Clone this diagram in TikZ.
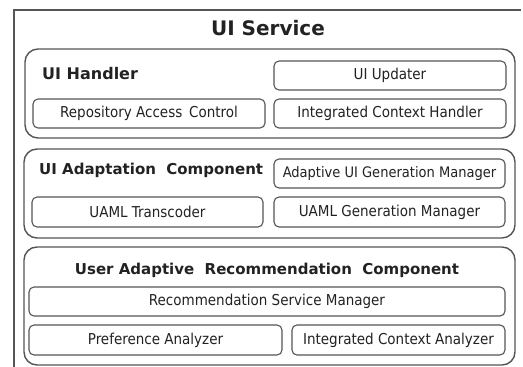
\documentclass[tikz,border=0pt]{standalone}
\usepackage{fontspec}
\setmainfont{DejaVu Sans}
\newfontfamily\boxfont{DejaVu Sans Condensed}
\newfontfamily\headfont{DejaVu Sans}
\definecolor{edge}{HTML}{555555}
\definecolor{ink}{HTML}{222222}
\begin{document}
\begin{tikzpicture}[x=1pt,y=-1pt,
  panel/.style={draw=edge,line width=1.4pt,rounded corners=13pt},
  unit/.style={draw=edge,line width=1.1pt,rounded corners=5pt,
    inner sep=0pt,font=\boxfont\fontsize{15}{17}\selectfont,text=ink},
  head/.style={inner sep=0pt,font=\headfont\bfseries\fontsize{15}{17}\selectfont,text=ink}]
\useasboundingbox (0,0) rectangle (523,367);
\fill[white] (0,0) rectangle (523,367);

% service frame (bottom and right sides run off the page)
\draw[edge,line width=1.2pt] (14,367) -- (14,10) -- (521,10);
\node[head,font=\headfont\bfseries\fontsize{20}{23}\selectfont] (svc) at (268,28) {UI Service};

% UI Handler
\node[panel,minimum width=490pt,minimum height=89pt] (handler) at (270,93.5) {};
\node[head,anchor=west,font=\headfont\bfseries\fontsize{16}{18}\selectfont] (handlerlbl) at (42,74) {UI Handler};
\node[unit,minimum width=232pt,minimum height=29pt] (updater) at (390,75.5) {UI Updater};
\node[unit,minimum width=232pt,minimum height=29pt] (rac) at (149,113.5) {Repository Access\ \,Control};
\node[unit,minimum width=232pt,minimum height=29pt] (ich) at (390,113.5) {Integrated Context Handler};

% UI Adaptation Component
\node[panel,minimum width=491pt,minimum height=89pt] (adapt) at (269.5,193.5) {};
\node[head,anchor=west] (adaptlbl) at (39,170) {UI Adaptation\ \ Component};
\node[unit,minimum width=231pt,minimum height=29pt,font=\boxfont\fontsize{14.5}{17}\selectfont] (augm) at (389.5,173.5) {Adaptive UI Generation Manager};
\node[unit,minimum width=231pt,minimum height=30pt] (trans) at (147.5,212) {UAML Transcoder};
\node[unit,minimum width=231pt,minimum height=30pt] (ugm) at (389.5,212) {UAML Generation Manager};

% User Adaptive Recommendation Component
\node[panel,minimum width=491pt,minimum height=118pt] (recomm) at (269.5,306) {};
\node[head] (recommlbl) at (267,270) {User Adaptive\ \ Recommendation\ \ Component};
\node[unit,minimum width=476pt,minimum height=29pt] (rsm) at (267,301.5) {Recommendation Service Manager};
\node[unit,minimum width=253pt,minimum height=30pt] (pref) at (155.5,340) {Preference Analyzer};
\node[unit,minimum width=213pt,minimum height=30pt] (ica) at (398.5,340) {Integrated Context Analyzer};
\end{tikzpicture}
\end{document}
